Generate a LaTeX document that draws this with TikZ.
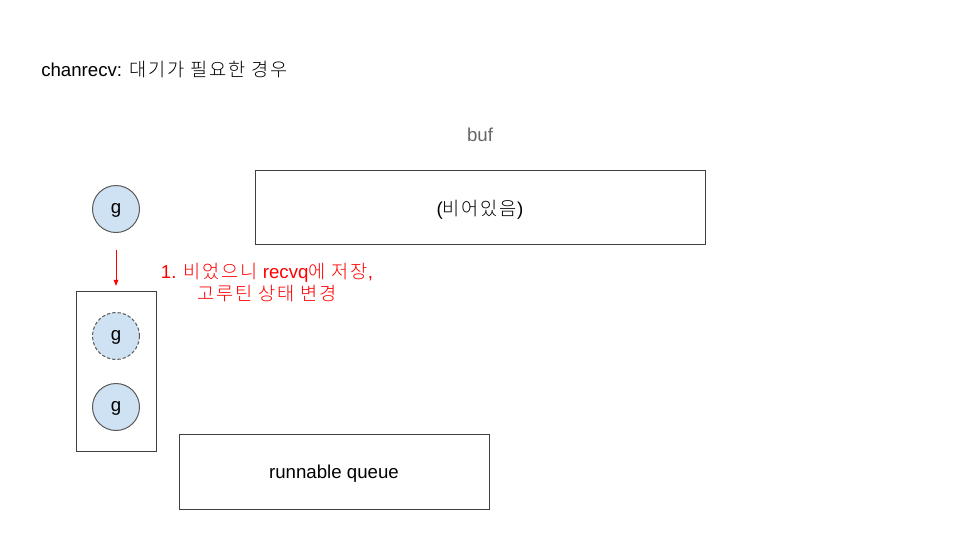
\documentclass[tikz,border=0pt]{standalone}
\usepackage{fontspec}
\setmainfont{Liberation Sans}
\newfontfamily\korfont{Noto Sans CJK KR}[UprightFont=* Light, LetterSpace=10]
\newcommand{\hangul}[1]{{\korfont #1}}
\usetikzlibrary{arrows.meta}

\definecolor{gFill}{HTML}{CFE2F3}
\definecolor{gLine}{HTML}{595959}
\definecolor{bufGray}{HTML}{666666}
\definecolor{noteRed}{HTML}{FF0000}

\tikzset{
    gnode/.style={circle, draw=gLine, fill=gFill, line width=0.75pt,
        minimum size=35.25pt, inner sep=0pt, text height=0.6em, text depth=0pt},
    boxnode/.style={draw=black!75, line width=0.75pt, inner sep=0pt, text depth=0pt},
}

\begin{document}
\begin{tikzpicture}[x=0.75pt, y=-0.75pt, font=\fontsize{14}{17}\selectfont]
    \useasboundingbox (0,0) rectangle (960,540);

    %title
    \node[anchor=west, inner sep=0pt] (title) at (41,69)
        {chanrecv: \hangul{대기가 필요한 경우}};

    %buf
    \node[text=bufGray] (bufLabel) at (480,135) {buf};
    \node[boxnode, minimum width=337.5pt, minimum height=55.5pt] (buf) at (480,207.5)
        {(\hangul{비어있음})};

    %goroutine + recvq
    \node[gnode] (g) at (116,209) {g};
    \node[boxnode, minimum width=60pt, minimum height=120pt] (recvq) at (116,371) {};
    \node[gnode, dash pattern=on 2.5pt off 1.5pt] (gWait) at (116,336) {g};
    \node[gnode] (gNext) at (116,407) {g};

    \draw[noteRed, line width=0.75pt, -{Latex[length=5pt,width=4pt]},
        shorten <=13pt, shorten >=3pt] (g) -- (recvq);
    \node[text=noteRed, align=center] (note) at (267,282.5)
        {1. \hangul{비었으니} recvq\hangul{에 저장},\\ \hangul{고루틴 상태 변경}};

    %runnable queue
    \node[boxnode, minimum width=232.5pt, minimum height=56.25pt] (runq) at (334,471.5)
        {runnable queue};
\end{tikzpicture}
\end{document}
